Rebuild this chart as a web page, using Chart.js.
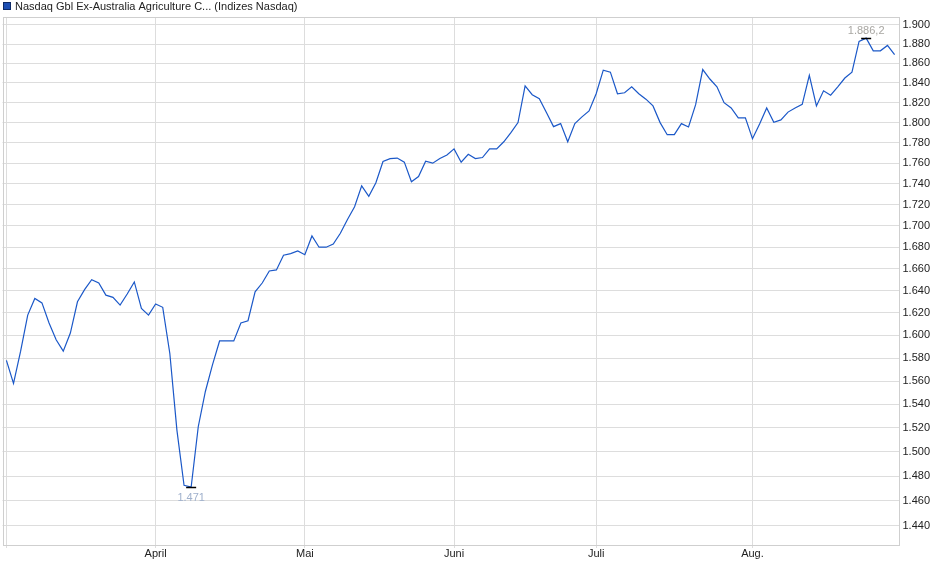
<!DOCTYPE html>
<html lang="de">
<head>
<meta charset="utf-8">
<title>Nasdaq Gbl Ex-Australia Agriculture</title>
<script src="https://cdn.jsdelivr.net/npm/chart.js@4.4.1/dist/chart.umd.min.js"></script>
<style>
    html, body { margin: 0; padding: 0; background: #fff; }
    #chart { display: block; }
</style>
</head>
<body>
<canvas id="chart" width="940" height="579"></canvas>
<script>
// Schlusskurse je Handelstag, nach Monaten
const marchValues = [1578, 1558, 1586, 1618, 1633, 1629, 1611, 1596, 1586, 1602, 1630,
    1641, 1650, 1647, 1636, 1634, 1627, 1637, 1648, 1624, 1618];
const aprilValues = [1628, 1625, 1584, 1518, 1472.5, 1471, 1521, 1551, 1574, 1595, 1595,
    1595, 1611, 1613, 1639, 1647, 1658, 1659, 1672.5, 1674, 1676.5];
const mayValues = [1673, 1690.5, 1680, 1680, 1683, 1693, 1706, 1718, 1738, 1728, 1741,
    1761.6, 1764.5, 1765, 1761, 1742, 1747, 1762, 1760, 1764.5, 1768];
const juneValues = [1774, 1761, 1768.7, 1764.5, 1765.5, 1774, 1774, 1781, 1790, 1800,
    1837, 1828, 1824, 1810, 1796, 1799, 1781, 1799, 1805.7, 1811.7];
const julyValues = [1829, 1853, 1851, 1829, 1830, 1836, 1829, 1823.5, 1816.7, 1800, 1788,
    1788, 1799, 1795.7, 1818, 1853.7, 1844, 1836, 1820, 1814.6, 1804.7, 1804.7];
const augustValues = [1784, 1798.6, 1814.6, 1800.3, 1802.7, 1810.5, 1814.6, 1818.3, 1847.7,
    1816.7, 1832, 1827.5, 1836, 1845, 1851, 1882.8, 1886.2, 1873, 1873, 1878.6, 1869];

const monthValues = [marchValues, aprilValues, mayValues, juneValues, julyValues, augustValues];
const monthNames = ['', 'April', 'Mai', 'Juni', 'Juli', 'Aug.'];
const yTickValues = [1440, 1460, 1480, 1500, 1520, 1540, 1560, 1580, 1600, 1620, 1640, 1660,
    1680, 1700, 1720, 1740, 1760, 1780, 1800, 1820, 1840, 1860, 1880, 1900];
const seriesName = 'Nasdaq Gbl Ex-Australia Agriculture C... (Indizes Nasdaq)';

const LINE_COLOR = '#1b58c8';
const GRID_COLOR = '#dddddd';
const FRAME_COLOR = '#cfcfcf';
const TEXT_COLOR = '#222222';
const FONT_FAMILY = '"Liberation Sans", Arial, sans-serif';

// Kurse hintereinander, Monatsanfaenge als Tick-Positionen
const closeValues = [].concat(...monthValues);
const monthStarts = [];
let count = 0;
monthValues.forEach(m => { monthStarts.push(count); count += m.length; });
const points = closeValues.map((v, i) => ({ x: i, y: v }));

function formatDe(v) {
    const r = Math.round(v * 10) / 10;
    const whole = Math.floor(r);
    const dec = Math.round((r - whole) * 10);
    let s = whole.toString().replace(/\B(?=(\d{3})+(?!\d))/g, '.');
    if (dec) s += ',' + dec;
    return s;
}

// Rahmen, Legende und Min/Max-Markierungen
const decorations = {
    id: 'decorations',
    beforeDatasetsDraw(chart) {
        const { ctx, chartArea } = chart;
        ctx.save();
        ctx.strokeStyle = FRAME_COLOR;
        ctx.lineWidth = 1;
        ctx.strokeRect(Math.round(chartArea.left) + 0.5, Math.round(chartArea.top) + 0.5,
            Math.round(chartArea.right - chartArea.left), Math.round(chartArea.bottom - chartArea.top));
        ctx.restore();
    },
    afterDatasetsDraw(chart) {
        const { ctx } = chart;
        const xs = chart.scales.x;
        const ys = chart.scales.y;
        ctx.save();

        // Legende
        ctx.fillStyle = '#1d4fb3';
        ctx.fillRect(3, 2, 8, 8);
        ctx.strokeStyle = '#0e2a66';
        ctx.lineWidth = 1;
        ctx.strokeRect(3.5, 2.5, 7, 7);
        ctx.fillStyle = TEXT_COLOR;
        ctx.font = '11px ' + FONT_FAMILY;
        ctx.textBaseline = 'middle';
        ctx.textAlign = 'left';
        ctx.fillText(seriesName, 15, 6.5);

        // Min / Max
        const minVal = Math.min(...closeValues);
        const maxVal = Math.max(...closeValues);
        const markers = [
            { idx: closeValues.indexOf(minVal), val: minVal, dy: 10, color: '#9fb0cc' },
            { idx: closeValues.indexOf(maxVal), val: maxVal, dy: -8, color: '#a8a6a2' }
        ];
        markers.forEach(m => {
            const px = xs.getPixelForValue(m.idx);
            const py = Math.round(ys.getPixelForValue(m.val)) + 0.5;
            ctx.strokeStyle = '#000';
            ctx.lineWidth = 1.5;
            ctx.beginPath();
            ctx.moveTo(px - 5, py);
            ctx.lineTo(px + 5, py);
            ctx.stroke();
            ctx.fillStyle = m.color;
            ctx.textAlign = 'center';
            ctx.fillText(formatDe(m.val), px, py + m.dy);
        });
        ctx.restore();
    }
};

new Chart(document.getElementById('chart'), {
    type: 'line',
    data: {
        datasets: [{
            label: seriesName,
            data: points,
            borderColor: LINE_COLOR,
            borderWidth: 1.2,
            pointRadius: 0,
            tension: 0,
            fill: false
        }]
    },
    options: {
        responsive: false,
        animation: false,
        layout: {
            padding: { top: 17, left: 2.5, right: 0, bottom: 0 }
        },
        plugins: {
            legend: { display: false },
            tooltip: { enabled: false }
        },
        scales: {
            x: {
                type: 'linear',
                min: -0.55,
                max: closeValues.length - 0.45,
                afterBuildTicks: axis => {
                    axis.ticks = monthStarts.map(v => ({ value: v }));
                },
                afterFit: axis => { axis.height = 34; },
                ticks: {
                    autoSkip: false,
                    maxRotation: 0,
                    padding: -1,
                    color: TEXT_COLOR,
                    font: { family: FONT_FAMILY, size: 11 },
                    callback: value => monthNames[monthStarts.indexOf(value)] || ''
                },
                grid: { color: GRID_COLOR, tickLength: 3 },
                border: { display: false }
            },
            y: {
                type: 'logarithmic',
                position: 'right',
                min: 1424.6,
                max: 1908.4,
                afterBuildTicks: axis => {
                    axis.ticks = yTickValues.map(v => ({ value: v }));
                },
                afterFit: axis => { axis.width = 41.5; },
                ticks: {
                    autoSkip: false,
                    padding: 4,
                    color: TEXT_COLOR,
                    font: { family: FONT_FAMILY, size: 11 },
                    callback: value => formatDe(value)
                },
                grid: { color: GRID_COLOR, drawTicks: false },
                border: { display: false }
            }
        }
    },
    plugins: [decorations]
});
</script>
</body>
</html>
